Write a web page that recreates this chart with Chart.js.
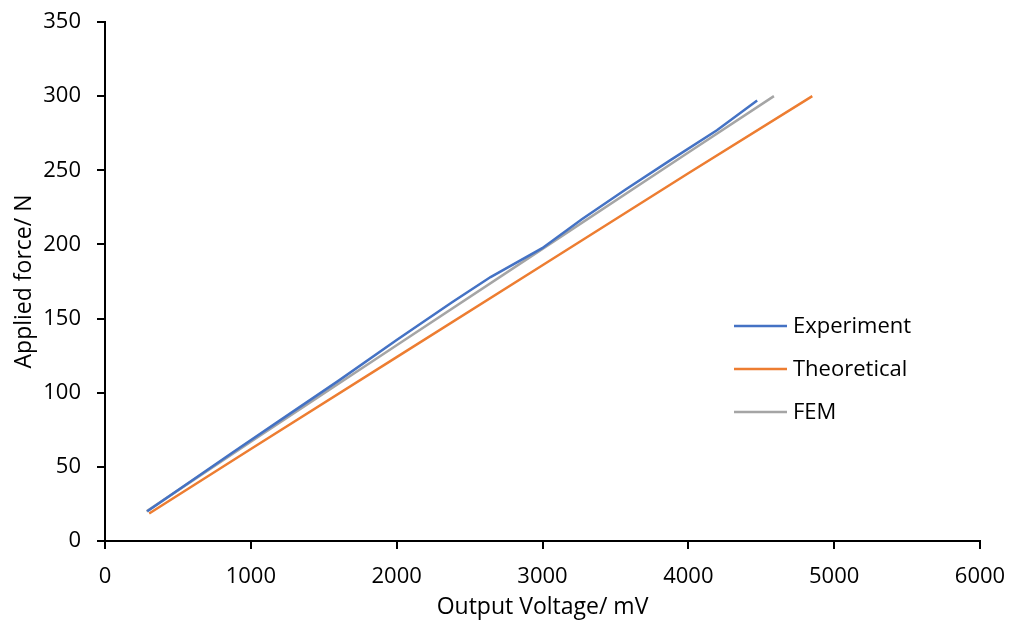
<!DOCTYPE html>
<html>
<head>
<meta charset="utf-8">
<script src="https://cdn.jsdelivr.net/npm/chart.js@4"></script>
<style>
  html, body { margin: 0; padding: 0; background: #fff; }
  #wrap { width: 1020px; height: 621px; }
</style>
</head>
<body>
<div id="wrap"><canvas id="myChart"></canvas></div>
<script>
// data
var seriesNames = ['Experiment', 'Theoretical', 'FEM'];
var seriesColors = ['#4472C4', '#ED7D31', '#A5A5A5'];

var expVoltage = [290, 880, 1210, 1600, 2000, 2380, 2644, 2998, 3270, 3570, 3880, 4196, 4472];
var expForce   = [20, 60, 82, 108, 135.5, 161, 178, 197.5, 217, 237, 257, 277, 297];

var theoVoltage = [303, 1000, 2000, 3000, 4000, 4850];
var theoForce   = [18.5, 62, 124, 186, 248, 300];

var femVoltage = [285, 1000, 2000, 3000, 4000, 4587];
var femForce   = [20, 67, 132, 197, 262, 300];

var xTicks = [0, 1000, 2000, 3000, 4000, 5000, 6000];
var yTicks = [0, 50, 100, 150, 200, 250, 300, 350];

function toPoints(xs, ys) {
  var pts = [];
  for (var i = 0; i < xs.length; i++) pts.push({ x: xs[i], y: ys[i] });
  return pts;
}

var FONT = '"Open Sans", sans-serif';

// legend drawn inside the plot, Excel style
const sideLegend = {
  id: 'sideLegend',
  afterDraw(chart) {
    const { ctx } = chart;
    ctx.save();
    ctx.font = '22px ' + FONT;
    ctx.textBaseline = 'middle';
    ctx.textAlign = 'left';
    var rows = [326, 369, 412];
    chart.data.datasets.forEach(function (ds, i) {
      ctx.strokeStyle = ds.borderColor;
      ctx.lineWidth = 2.5;
      ctx.beginPath();
      ctx.moveTo(734, rows[i]);
      ctx.lineTo(787, rows[i]);
      ctx.stroke();
      ctx.fillStyle = '#000';
      ctx.fillText(ds.label, 793, rows[i] + 1);
    });
    ctx.restore();
  }
};

var ctx = document.getElementById('myChart').getContext('2d');

var myChart = new Chart(ctx, {
  type: 'scatter',
  data: {
    datasets: [
      { label: seriesNames[0], data: toPoints(expVoltage, expForce) },
      { label: seriesNames[1], data: toPoints(theoVoltage, theoForce) },
      { label: seriesNames[2], data: toPoints(femVoltage, femForce) }
    ].map(function (ds, i) {
      ds.borderColor = seriesColors[i];
      ds.backgroundColor = seriesColors[i];
      ds.showLine = true;
      ds.borderWidth = 2.5;
      ds.pointRadius = 0;
      ds.tension = 0;
      return ds;
    })
  },
  options: {
    responsive: true,
    maintainAspectRatio: false,
    animation: false,
    layout: { padding: { left: 0, top: 22, right: 40, bottom: 0 } },
    plugins: {
      legend: { display: false },
      tooltip: { enabled: false }
    },
    scales: {
      x: {
        type: 'linear',
        min: 0,
        max: 6000,
        afterBuildTicks: function (axis) {
          axis.ticks = xTicks.map(function (v) { return { value: v }; });
        },
        afterFit: function (axis) {
          axis.height = 80;
          axis.paddingLeft = 0;
          axis.paddingRight = 0;
        },
        border: { color: '#000', width: 2 },
        grid: { drawOnChartArea: false, color: '#000', tickLength: 8, lineWidth: 2 },
        ticks: {
          color: '#000', font: { family: FONT, size: 22 }, padding: 15, maxRotation: 0,
          callback: function (v) { return String(v); }
        },
        title: {
          display: true,
          text: 'Output Voltage/ mV',
          color: '#000',
          font: { family: FONT, size: 23 },
          padding: { top: 0, bottom: 0 }
        }
      },
      y: {
        type: 'linear',
        min: 0,
        max: 350,
        afterBuildTicks: function (axis) {
          axis.ticks = yTicks.map(function (v) { return { value: v }; });
        },
        afterFit: function (axis) {
          axis.width = 105;
          axis.paddingTop = 0;
          axis.paddingBottom = 0;
        },
        border: { color: '#000', width: 2 },
        grid: { drawOnChartArea: false, color: '#000', tickLength: 8, lineWidth: 2 },
        ticks: {
          color: '#000', font: { family: FONT, size: 22 }, padding: 16,
          callback: function (v) { return String(v); }
        },
        title: {
          display: true,
          text: 'Applied force/ N',
          color: '#000',
          font: { family: FONT, size: 23 },
          padding: { top: 11, bottom: 0 }
        }
      }
    }
  },
  plugins: [sideLegend]
});
</script>
</body>
</html>
